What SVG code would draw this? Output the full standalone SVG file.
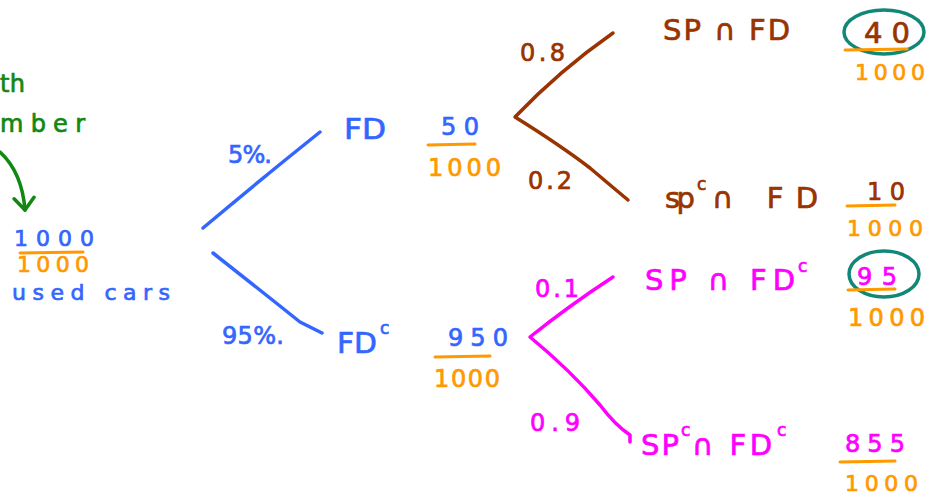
<svg xmlns="http://www.w3.org/2000/svg" width="933" height="497" viewBox="0 0 933 497">
<style>
text{font-family:"DejaVu Sans","Liberation Sans",sans-serif;font-size:24px;stroke-width:0.7}
.L{font-size:29px}
.s{font-size:22px}
.b{fill:#3366ff;stroke:#3366ff}.o{fill:#ff9900;stroke:#ff9900}.br{fill:#993300;stroke:#993300}.m{fill:#ff00ff;stroke:#ff00ff}.g{fill:#118811;stroke:#118811}
.sup{font-size:17px}
.ln{fill:none;stroke-width:3.5;stroke-linecap:round;stroke-linejoin:round}
.bar{stroke:#ff9900;stroke-width:3;stroke-linecap:round}
.circ{fill:none;stroke:#118877;stroke-width:3.5}
</style>
<defs>
<marker id="ah" viewBox="0 0 18 24" refX="15" refY="12" markerWidth="18" markerHeight="24" markerUnits="userSpaceOnUse" orient="auto">
<path d="M3,2 L15,12 L3,22" fill="none" stroke="#118811" stroke-width="3.5" stroke-linecap="round" stroke-linejoin="round"/>
</marker>
</defs>
<rect width="933" height="497" fill="#ffffff"/>

<g id="connectors">
<path class="ln" stroke="#118811" d="M0,152 Q22,172 25,210" marker-end="url(#ah)"/>
<path class="ln" stroke="#3366ff" d="M203,228 Q260,180 320,132"/>
<path class="ln" stroke="#3366ff" d="M213,253 Q260,290 300,322 L322,333"/>
<path class="ln" stroke="#993300" d="M613,33 Q560,70 515,117 Q560,145 590,168 Q610,185 628,200"/>
<path class="ln" stroke="#ff00ff" d="M613,277 Q570,305 530,337 Q570,370 600,405 Q615,425 630,435 L630,442"/>
</g>

<g id="note">
<text class="g" x="0" y="92" textLength="25" lengthAdjust="spacing">th</text>
<text class="g" x="0" y="132" textLength="85" lengthAdjust="spacing">mber</text>
</g>

<g id="root">
<text class="b s" x="14" y="246" textLength="80" lengthAdjust="spacing">1000</text>
<line class="bar" x1="20" y1="253" x2="83" y2="252"/>
<text class="o s" x="17" y="272" textLength="72" lengthAdjust="spacing">1000</text>
<text class="b s" x="12" y="300" textLength="158" lengthAdjust="spacing">used  cars</text>
</g>

<g id="p-fd">
<text class="b" x="228" y="163" textLength="44" lengthAdjust="spacing">5%.</text>
<text class="b" x="222" y="344" textLength="62" lengthAdjust="spacing">95%.</text>
</g>

<g id="fd">
<text class="b L" x="344" y="139" textLength="42" lengthAdjust="spacingAndGlyphs">FD</text>
<text class="b" x="441" y="135" textLength="38" lengthAdjust="spacing">50</text>
<line class="bar" x1="428" y1="145" x2="475" y2="144"/>
<text class="o" x="428" y="176" textLength="73" lengthAdjust="spacing">1000</text>
</g>

<g id="fdc">
<text class="b L" x="337" y="353" textLength="40" lengthAdjust="spacingAndGlyphs">FD</text>
<text class="b sup" x="380" y="334">c</text>
<text class="b" x="448" y="346" textLength="60" lengthAdjust="spacing">950</text>
<line class="bar" x1="435" y1="357" x2="490" y2="356"/>
<text class="o" x="434" y="387" textLength="66" lengthAdjust="spacing">1000</text>
</g>

<g id="p-sp">
<text class="br" x="520" y="61" textLength="45" lengthAdjust="spacing">0.8</text>
<text class="br" x="528" y="189" textLength="44" lengthAdjust="spacing">0.2</text>
<text class="m" x="535" y="297" textLength="44" lengthAdjust="spacing">0.1</text>
<text class="m" x="530" y="431" textLength="50" lengthAdjust="spacing">0.9</text>
</g>

<g id="sp-fd">
<text class="br L" x="663" y="40" textLength="127" lengthAdjust="spacing">SP ∩ FD</text>
<ellipse class="circ" cx="884" cy="32" rx="40" ry="22"/>
<text class="br L" x="864" y="43" textLength="46" lengthAdjust="spacing">40</text>
<line class="bar" x1="845" y1="50" x2="907" y2="49"/>
<text class="o s" x="855" y="80" textLength="70" lengthAdjust="spacing">1000</text>
</g>

<g id="spc-fd">
<text class="br L" x="665" y="208" textLength="30" lengthAdjust="spacing">sp</text>
<text class="br sup" x="697" y="190">c</text>
<text class="br L" x="712" y="208" textLength="106" lengthAdjust="spacing">∩ FD</text>
<text class="br" x="867" y="200" textLength="38" lengthAdjust="spacing">10</text>
<line class="bar" x1="847" y1="206" x2="895" y2="205"/>
<text class="o s" x="847" y="236" textLength="76" lengthAdjust="spacing">1000</text>
</g>

<g id="sp-fdc">
<text class="m L" x="645" y="290" textLength="150" lengthAdjust="spacing">SP  ∩ FD</text>
<text class="m sup" x="798" y="272">c</text>
<ellipse class="circ" cx="884" cy="274" rx="35" ry="23"/>
<text class="m" x="857" y="285" textLength="40" lengthAdjust="spacing">95</text>
<line class="bar" x1="848" y1="290" x2="895" y2="289"/>
<text class="o" x="848" y="326" textLength="77" lengthAdjust="spacing">1000</text>
</g>

<g id="spc-fdc">
<text class="m L" x="641" y="455" textLength="38" lengthAdjust="spacing">SP</text>
<text class="m sup" x="681" y="436">c</text>
<text class="m L" x="692" y="455" textLength="80" lengthAdjust="spacing">∩ FD</text>
<text class="m sup" x="777" y="436">c</text>
<text class="m" x="845" y="452" textLength="60" lengthAdjust="spacing">855</text>
<line class="bar" x1="840" y1="462" x2="895" y2="461"/>
<text class="o s" x="845" y="491" textLength="73" lengthAdjust="spacing">1000</text>
</g>
</svg>
